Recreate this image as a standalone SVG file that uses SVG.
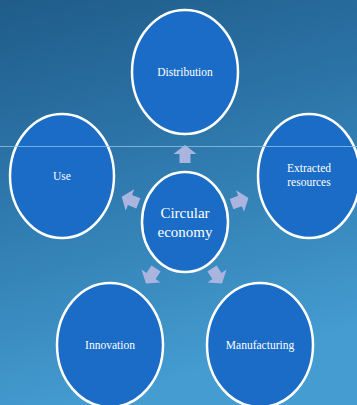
<svg xmlns="http://www.w3.org/2000/svg" width="357" height="405" viewBox="0 0 357 405">
<defs>
<linearGradient id="bg" x1="0" y1="0" x2="0.25" y2="1">
<stop offset="0" stop-color="#1f5c8a"/>
<stop offset="0.5" stop-color="#2f7aae"/>
<stop offset="1" stop-color="#449cd0"/>
</linearGradient>
<path id="arr" d="M0,-9 L11.5,0 L5.5,0 L5.5,9 L-5.5,9 L-5.5,0 L-11.5,0 Z"/>
<style>
.node{fill:#1a6cc6;stroke:#ffffff;stroke-width:2.5}
.lbl{font-family:"Liberation Serif","Times New Roman",serif;fill:#ffffff;text-anchor:middle}
.s{font-size:11.5px}
.b{font-size:15px}
.ar{fill:#a9b5de}
</style>
</defs>
<rect width="357" height="405" fill="url(#bg)"/>
<g id="connectors">
<use href="#arr" class="ar" transform="translate(185,154)"/>
<use href="#arr" class="ar" transform="translate(240,201) rotate(70)"/>
<use href="#arr" class="ar" transform="translate(130,200) rotate(-68)"/>
<use href="#arr" class="ar" transform="translate(151,276) rotate(-146)"/>
<use href="#arr" class="ar" transform="translate(217,276) rotate(146)"/>
</g>
<g id="distribution">
<ellipse class="node" cx="185" cy="72" rx="53" ry="62"/>
<text class="lbl s" x="185" y="76">Distribution</text>
</g>
<g id="use">
<ellipse class="node" cx="62" cy="176" rx="52" ry="62"/>
<text class="lbl s" x="62" y="180">Use</text>
</g>
<g id="extracted">
<ellipse class="node" cx="309" cy="176" rx="51" ry="62"/>
<text class="lbl s" x="309" y="172">Extracted</text>
<text class="lbl s" x="309" y="186">resources</text>
</g>
<g id="circular">
<ellipse class="node" cx="185" cy="222" rx="43" ry="50"/>
<text class="lbl b" x="185" y="218">Circular</text>
<text class="lbl b" x="185" y="237">economy</text>
</g>
<g id="innovation">
<ellipse class="node" cx="110" cy="345" rx="53" ry="62"/>
<text class="lbl s" x="110" y="349">Innovation</text>
</g>
<g id="manufacturing">
<ellipse class="node" cx="260" cy="345" rx="53" ry="62"/>
<text class="lbl s" x="260" y="349">Manufacturing</text>
</g>
<line x1="0" y1="146.5" x2="357" y2="146.5" stroke="#8fc3e6" stroke-width="0.8"/>
</svg>
